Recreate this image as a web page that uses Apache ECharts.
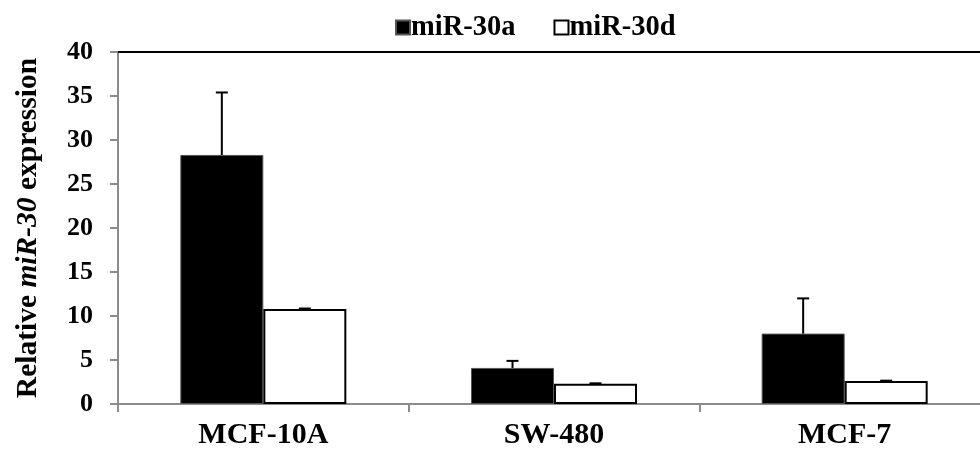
<!DOCTYPE html>
<html>
<head>
<meta charset="utf-8">
<style>
  html, body { margin: 0; padding: 0; background: #fff; overflow: hidden; }
  #chart { width: 992px; height: 452px; }
</style>
<script src="https://cdn.jsdelivr.net/npm/echarts@6/dist/echarts.min.js"></script>
</head>
<body>
<div id="chart"></div>
<script>
// Cell lines and relative miR-30 expression (mean and upper error)
const categories = ['MCF-10A', 'SW-480', 'MCF-7'];
const mir30a = [28.3, 4.1, 8.0];
const mir30aErr = [7.1, 0.8, 4.0];
const mir30d = [10.8, 2.3, 2.6];
const mir30dErr = [0.05, 0.05, 0.05];
const yTicks = [0, 5, 10, 15, 20, 25, 30, 35, 40];

const FONT = '"Liberation Serif", "Times New Roman", serif';
const BAR_W = 83;
const AXIS_GRAY = '#8c8c8c';

// Upward-only error bar with a short cap, drawn at the centre of its bar
function errorRenderer(values, errs, offset) {
  return function (params, api) {
    const i = api.value(0);
    const base = api.coord([i, values[i]]);
    const top = api.coord([i, values[i] + errs[i]]);
    const x = base[0] + offset;
    const cap = 6;
    const style = { stroke: '#000', lineWidth: 2 };
    return {
      type: 'group',
      children: [
        { type: 'line', shape: { x1: x, y1: base[1], x2: x, y2: top[1] }, style },
        { type: 'line', shape: { x1: x - cap, y1: top[1], x2: x + cap, y2: top[1] }, style }
      ]
    };
  };
}

const chart = echarts.init(document.getElementById('chart'));
chart.setOption({
  animation: false,
  backgroundColor: '#fff',
  textStyle: { fontFamily: FONT },
  legend: {
    data: ['miR-30a', 'miR-30d'],
    top: 8,
    left: 390,
    icon: 'rect',
    itemWidth: 14,
    itemHeight: 14,
    itemGap: 38,
    textStyle: { fontFamily: FONT, fontWeight: 'bold', fontSize: 28.5, color: '#000', padding: [0, 0, 0, -4] }
  },
  grid: { left: 118, top: 52, right: 2, height: 352 },
  xAxis: [
    {
      type: 'category',
      data: categories,
      position: 'bottom',
      axisLine: { lineStyle: { color: AXIS_GRAY, width: 2 } },
      axisTick: { show: true, length: 8, lineStyle: { color: AXIS_GRAY, width: 2 } },
      axisLabel: { color: '#000', fontFamily: FONT, fontWeight: 'bold', fontSize: 30, margin: 16 }
    },
    {
      type: 'category',
      data: categories,
      position: 'top',
      axisLine: { lineStyle: { color: '#000', width: 2 } },
      axisTick: { show: false },
      axisLabel: { show: false }
    }
  ],
  yAxis: {
    type: 'value',
    min: 0,
    max: 40,
    interval: 5,
    axisLine: { show: true, lineStyle: { color: AXIS_GRAY, width: 2 } },
    axisTick: { show: true, length: 8, lineStyle: { color: AXIS_GRAY, width: 2 } },
    splitLine: { show: false },
    axisLabel: {
      color: '#000', fontFamily: FONT, fontWeight: 'bold', fontSize: 26, margin: 25,
      formatter: v => (yTicks.includes(v) ? String(v) : '')
    },
    name: '{b|Relative }{i|miR-30}{b| expression}',
    nameLocation: 'middle',
    nameGap: 75,
    nameTextStyle: {
      rich: {
        b: { fontFamily: FONT, fontWeight: 'bold', fontSize: 29.5, color: '#000' },
        i: { fontFamily: FONT, fontWeight: 'bold', fontStyle: 'italic', fontSize: 29.5, color: '#000' }
      }
    }
  },
  series: [
    {
      name: 'miR-30a',
      type: 'bar',
      data: mir30a,
      barWidth: BAR_W,
      barGap: '0%',
      itemStyle: { color: '#000', borderColor: '#555', borderWidth: 1 }
    },
    {
      name: 'miR-30d',
      type: 'bar',
      data: mir30d,
      barWidth: BAR_W,
      barGap: '0%',
      itemStyle: { color: '#fff', borderColor: '#000', borderWidth: 2 }
    },
    {
      type: 'custom',
      renderItem: errorRenderer(mir30a, mir30aErr, -BAR_W / 2),
      data: categories.map((c, i) => [i, mir30a[i] + mir30aErr[i]]),
      z: 5
    },
    {
      type: 'custom',
      renderItem: errorRenderer(mir30d, mir30dErr, BAR_W / 2),
      data: categories.map((c, i) => [i, mir30d[i] + mir30dErr[i]]),
      z: 5
    }
  ]
});
</script>
</body>
</html>
